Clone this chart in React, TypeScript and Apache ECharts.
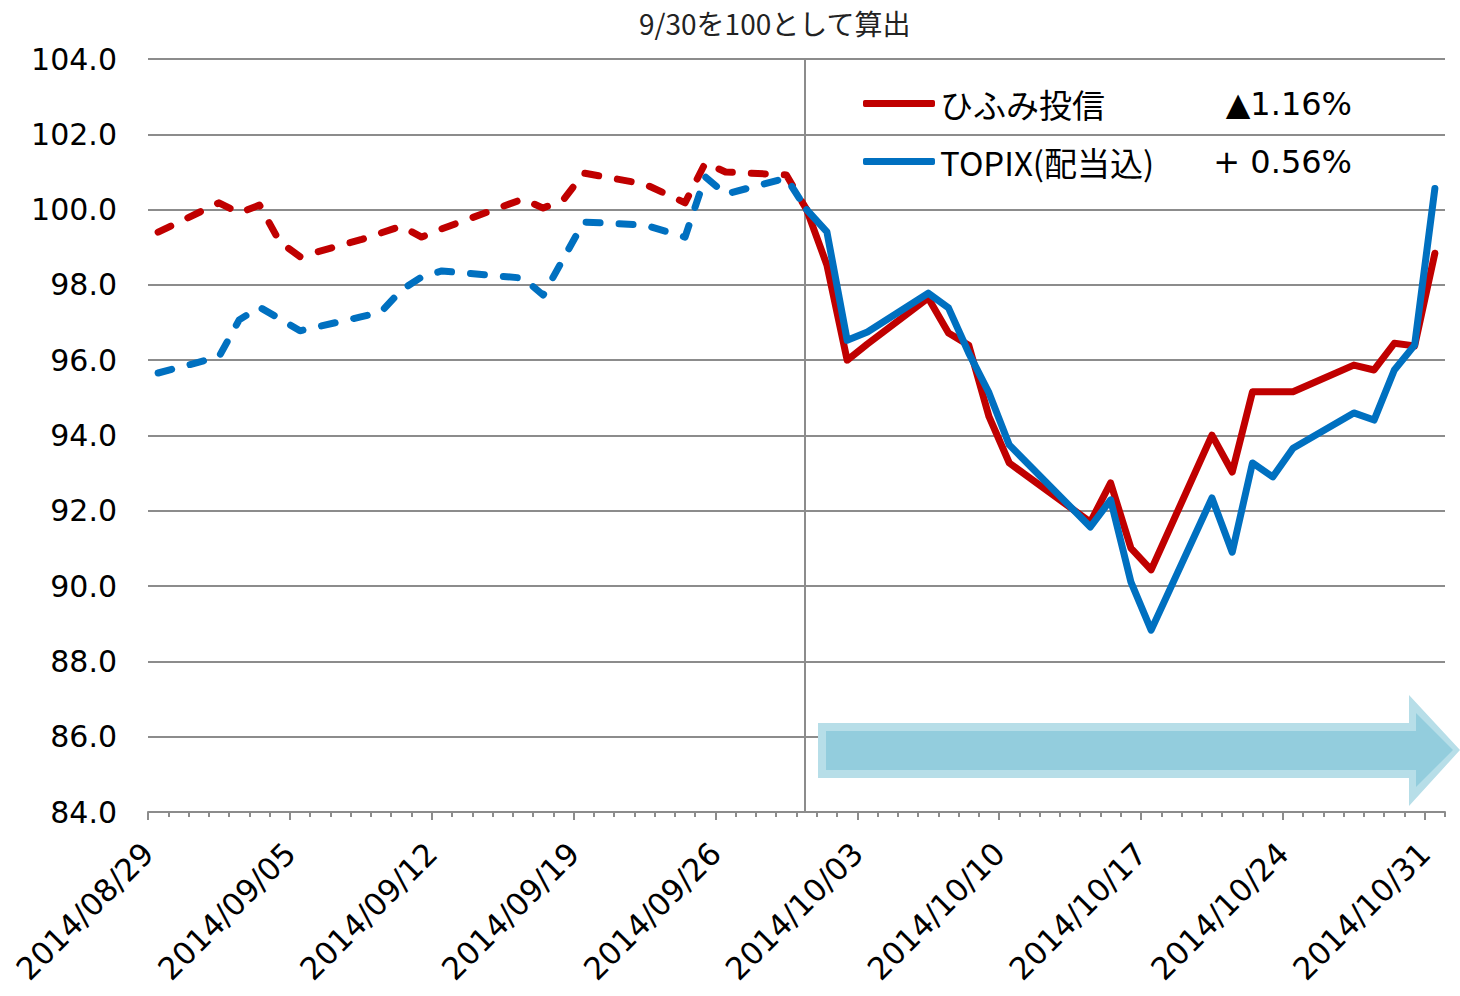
import React, { useEffect, useRef } from 'react';
import * as echarts from 'echarts';

const dates = [
  '2014/08/29', '2014/09/01', '2014/09/02', '2014/09/03', '2014/09/04', '2014/09/05',
  '2014/09/08', '2014/09/09', '2014/09/10', '2014/09/11', '2014/09/12',
  '2014/09/16', '2014/09/17', '2014/09/18', '2014/09/19',
  '2014/09/22', '2014/09/24', '2014/09/25', '2014/09/26',
  '2014/09/29', '2014/09/30', '2014/10/01', '2014/10/02', '2014/10/03',
  '2014/10/06', '2014/10/07', '2014/10/08', '2014/10/09', '2014/10/10',
  '2014/10/14', '2014/10/15', '2014/10/16', '2014/10/17',
  '2014/10/20', '2014/10/21', '2014/10/22', '2014/10/23', '2014/10/24',
  '2014/10/27', '2014/10/28', '2014/10/29', '2014/10/30', '2014/10/31',
];

const hifumi = [
  99.40, 100.18, 99.91, 100.12, 99.14, 98.75,
  99.20, 99.38, 99.56, 99.27, 99.49,
  100.28, 100.04, 100.26, 100.97,
  100.68, 100.18, 101.24, 101.00,
  100.92, 100.00, 98.53, 96.00, 96.43,
  97.65, 96.72, 96.40, 94.50, 93.27,
  91.70, 92.74, 91.01, 90.43,
  94.01, 93.03, 95.16, 95.16, 95.16,
  95.87, 95.74, 96.45, 96.38, 98.84,
];

const topix = [
  95.66, 96.09, 97.07, 97.41, 97.10, 96.78,
  97.15, 97.28, 97.86, 98.21, 98.37,
  98.18, 97.73, 98.70, 99.67,
  99.59, 99.27, 100.87, 100.41,
  100.84, 100.00, 99.41, 96.53, 96.75,
  97.78, 97.39, 96.19, 95.13, 93.75,
  91.57, 92.29, 90.11, 88.83,
  92.34, 90.90, 93.27, 92.90, 93.66,
  94.60, 94.41, 95.74, 96.40, 100.56,
];

const seriesNames = ['ひふみ投信', 'TOPIX(配当込)'];
const seriesChanges = ['▲1.16%', '+ 0.56%'];
const seriesColors = ['#C00000', '#0070C0'];
const titleText = '9/30を100として算出';
const startDate = '2014/08/29';
const endDate = '2014/11/01';
const baseDate = '2014/09/30';
const yMin = 84;
const yMax = 104;
const yStep = 2;
const xStepDays = 7;

const MS_DAY = 86400000;
function toUTC(s: string) {
  const [y, m, d] = s.split('/').map(Number);
  return Date.UTC(y, m - 1, d);
}
function dayOf(s: string) {
  return Math.round((toUTC(s) - toUTC(startDate)) / MS_DAY);
}
function pad(n: number) {
  return n < 10 ? '0' + n : '' + n;
}
function fmtDay(v: number) {
  const t = new Date(toUTC(startDate) + Math.round(v) * MS_DAY);
  return `${t.getUTCFullYear()}/${pad(t.getUTCMonth() + 1)}/${pad(t.getUTCDate())}`;
}
// Excel-style date axis: each day's point sits in the middle of its day slot
const xOf = (s: string) => dayOf(s) + 0.5;

const baseIdx = dates.indexOf(baseDate);

function pairs(vals: number[], from: number, to: number) {
  const out: [number, number][] = [];
  for (let i = from; i <= to; i++) out.push([xOf(dates[i]), vals[i]]);
  return out;
}

const FONT_NUM = '"DejaVu Sans", sans-serif';
const FONT_JP = '"Noto Sans CJK JP", "Noto Sans", sans-serif';

export default function App() {
  const ref = useRef<HTMLDivElement>(null);

  useEffect(() => {
    if (!ref.current) return;
    const chart = echarts.init(ref.current, null, { renderer: 'svg' });
    const xMax = dayOf(endDate);

    const dashed = (idx: number, vals: number[]) => ({
      name: seriesNames[idx] + '(9/30以前)',
      type: 'line',
      xAxisIndex: 0,
      data: pairs(vals, 0, baseIdx),
      symbol: 'none',
      lineStyle: { color: seriesColors[idx], width: 7, type: [14, 19], cap: 'round', join: 'round' },
      itemStyle: { color: seriesColors[idx] },
      z: 3,
    });
    const solid = (idx: number, vals: number[], extra: any = {}) => ({
      name: seriesNames[idx],
      type: 'line',
      xAxisIndex: 0,
      data: pairs(vals, baseIdx, dates.length - 1),
      symbol: 'none',
      lineStyle: { color: seriesColors[idx], width: 7, cap: 'round', join: 'round' },
      itemStyle: { color: seriesColors[idx] },
      z: 4,
      ...extra,
    });

    const option: any = {
      animation: false,
      backgroundColor: '#ffffff',
      title: {
        text: titleText,
        left: 634,
        top: 4,
        textStyle: { fontFamily: FONT_JP, fontSize: 28, fontWeight: 'normal', color: '#222' },
      },
      legend: {
        data: seriesNames,
        orient: 'vertical',
        left: 858,
        top: 82,
        itemWidth: 72,
        itemHeight: 7,
        itemGap: 25,
        icon: 'roundRect',
        formatter: (name: string) => {
          const i = seriesNames.indexOf(name);
          return `{n|${name}}{p|${seriesChanges[i]}}`;
        },
        textStyle: {
          fontFamily: FONT_JP,
          fontSize: 32,
          color: '#000',
          rich: {
            n: { width: 265, fontSize: 33, lineHeight: 40, fontFamily: FONT_JP, color: '#000' },
            p: { width: 147, align: 'right', fontSize: 32, lineHeight: 40, fontFamily: FONT_NUM, color: '#000' },
          },
        },
      },
      grid: { left: 148, right: 15, top: 59, bottom: 184, containLabel: false },
      xAxis: [
        {
          type: 'value',
          position: 'bottom',
          min: 0,
          max: xMax,
          interval: xStepDays,
          axisLine: { show: true, onZero: false, lineStyle: { color: '#8c8c8c', width: 2 } },
          axisTick: { show: true, length: 8, lineStyle: { color: '#8c8c8c', width: 2 } },
          splitLine: { show: false },
          axisLabel: {
            rotate: 45,
            margin: 36,
            fontSize: 31,
            fontFamily: FONT_NUM,
            color: '#000',
            showMaxLabel: false,
            formatter: (v: number) => fmtDay(v),
          },
        },
        {
          type: 'value',
          position: 'bottom',
          min: 0,
          max: xMax,
          interval: 1,
          axisLine: { show: false, onZero: false },
          axisTick: { show: true, length: 5, lineStyle: { color: '#8c8c8c', width: 2 } },
          splitLine: { show: false },
          axisLabel: { show: false },
        },
      ],
      yAxis: {
        type: 'value',
        min: yMin,
        max: yMax,
        interval: yStep,
        axisLine: { show: false },
        axisTick: { show: false },
        splitLine: { show: true, lineStyle: { color: '#8c8c8c', width: 2 } },
        axisLabel: {
          margin: 31,
          fontSize: 30,
          fontFamily: FONT_NUM,
          color: '#000',
          formatter: (v: number) => v.toFixed(1),
        },
      },
      series: [
        dashed(0, hifumi),
        dashed(1, topix),
        solid(0, hifumi, {
          markLine: {
            silent: true,
            symbol: 'none',
            label: { show: false },
            lineStyle: { color: '#8c8c8c', width: 2, type: 'solid' },
            data: [{ xAxis: xOf(baseDate) - 0.1 }],
            z: 2,
          },
        }),
        solid(1, topix),
      ],
      graphic: [
        {
          type: 'polygon',
          z: 10,
          shape: {
            points: [
              [818, 723], [1409, 723], [1409, 695], [1460, 750],
              [1409, 806], [1409, 778], [818, 778],
            ],
          },
          style: { fill: '#B7DEE8' },
        },
        {
          type: 'polygon',
          z: 11,
          shape: {
            points: [
              [826, 731], [1416, 731], [1416, 713], [1453, 750],
              [1416, 787], [1416, 770], [826, 770],
            ],
          },
          style: { fill: '#93CDDD' },
        },
      ],
    };

    chart.setOption(option);
    return () => chart.dispose();
  }, []);

  return (
    <div
      ref={ref}
      style={{ position: 'fixed', left: 0, top: 0, width: 1460, height: 996, background: '#fff' }}
    />
  );
}
